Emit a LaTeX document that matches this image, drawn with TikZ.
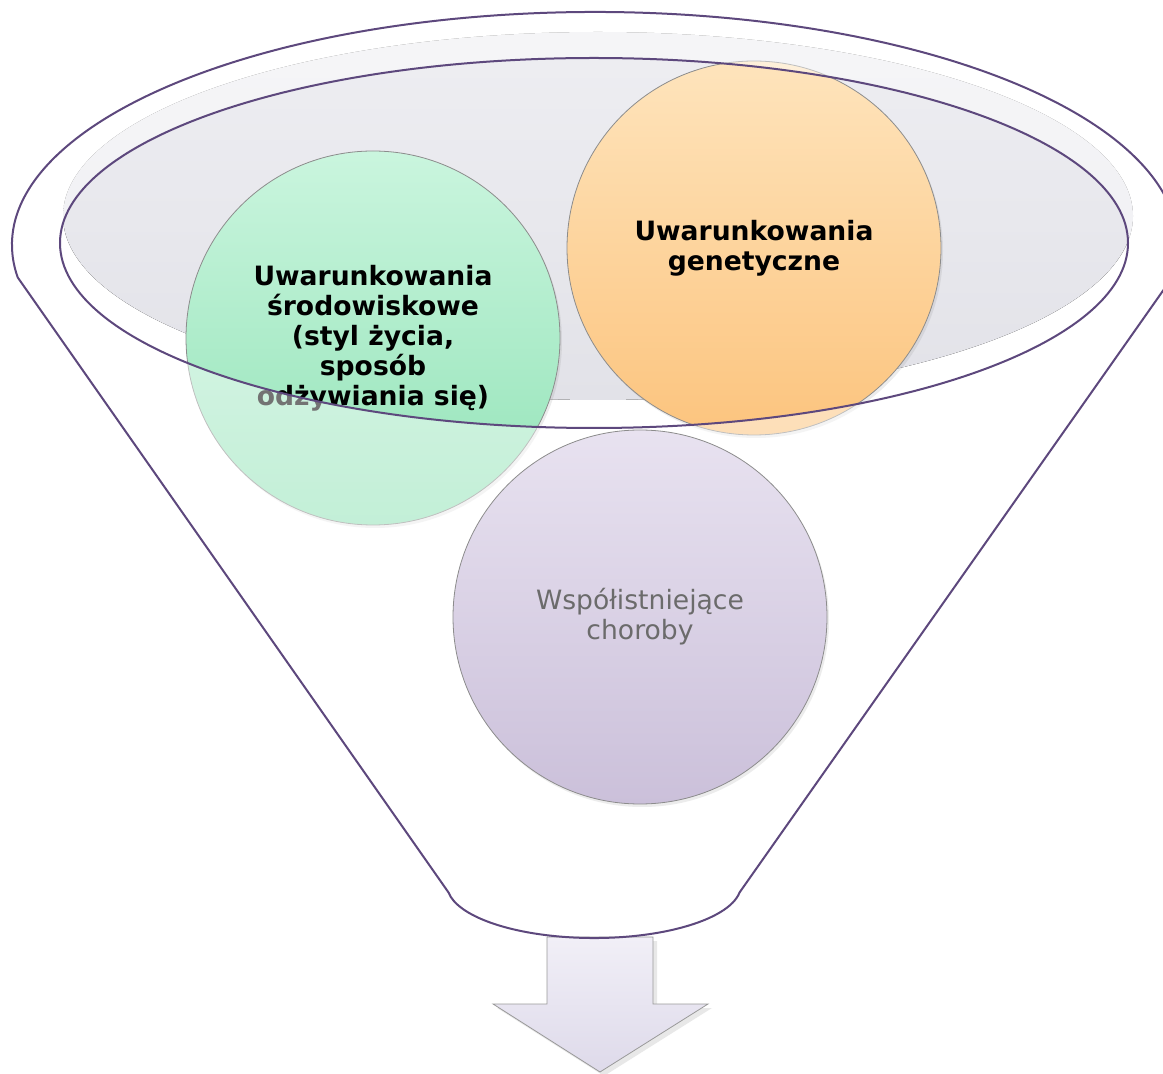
\documentclass[tikz,border=0pt]{standalone}
\usepackage{fontspec}
\setmainfont{DejaVu Sans}
\usetikzlibrary{shadows}
\definecolor{rim}{RGB}{93,72,125}
\definecolor{envtop}{RGB}{202,245,222}
\definecolor{envbot}{RGB}{146,227,183}
\definecolor{gentop}{RGB}{254,228,188}
\definecolor{genbot}{RGB}{252,196,126}
\definecolor{distop}{RGB}{232,226,240}
\definecolor{disbot}{RGB}{203,192,218}
\definecolor{bowltop}{RGB}{238,238,242}
\definecolor{bowlbot}{RGB}{226,226,232}
\definecolor{arrtop}{RGB}{241,239,247}
\definecolor{arrbot}{RGB}{222,218,234}
% outline of the funnel: top rim, both sides and the neck
\newcommand\funnelbody{(lipL) arc[start angle=172,end angle=368,x radius=583,y radius=233]
  -- (neckR) arc[start angle=8,end angle=172,x radius=147,y radius=53] -- cycle}
\begin{document}
\begin{tikzpicture}[x=0.5pt,y=-0.5pt,
  ball/.style={circle,draw=black!45,line width=0.4pt,minimum size=187pt,inner sep=0pt,
    align=center,font=\fontsize{13.3}{15}\selectfont,
    drop shadow={opacity=0.15,shadow xshift=1pt,shadow yshift=-1.5pt}},
  rimline/.style={draw=rim,line width=1pt}]
\useasboundingbox (0,0) rectangle (1163,1074);
\clip (0,0) rectangle (1163,1074);
\coordinate (lipL) at (17.7,277.4);
\coordinate (neckR) at (739.6,892.4);
\fill[top color=bowltop,bottom color=bowlbot] (598,216) ellipse [x radius=535,y radius=184];
\node[ball,top color=envtop,bottom color=envbot] (env) at (373,338)
  {\bfseries Uwarunkowania\\\bfseries środowiskowe\\\bfseries (styl życia,\\\bfseries sposób\\\bfseries odżywiania się)};
\node[ball,top color=gentop,bottom color=genbot] (gen) at (754,248)
  {\bfseries Uwarunkowania\\\bfseries genetyczne};
% front of the funnel lies over the balls
\fill[white,fill opacity=0.45,even odd rule] \funnelbody (594,243) ellipse [x radius=534,y radius=185];
\node[ball,top color=distop,bottom color=disbot,text=black!58] (dis) at (640,617)
  {Współistniejące\\choroby};
\draw[draw=black!40,top color=arrtop,bottom color=arrbot,
  drop shadow={opacity=0.18,shadow xshift=2pt,shadow yshift=-2pt}]
  (547,937) -- (653,937) -- (653,1004) -- (708,1004) -- (600,1072) -- (493,1004) -- (547,1004) -- cycle;
\draw[rimline] (594,243) ellipse [x radius=534,y radius=185];
\draw[rimline] \funnelbody;
\end{tikzpicture}
\end{document}
